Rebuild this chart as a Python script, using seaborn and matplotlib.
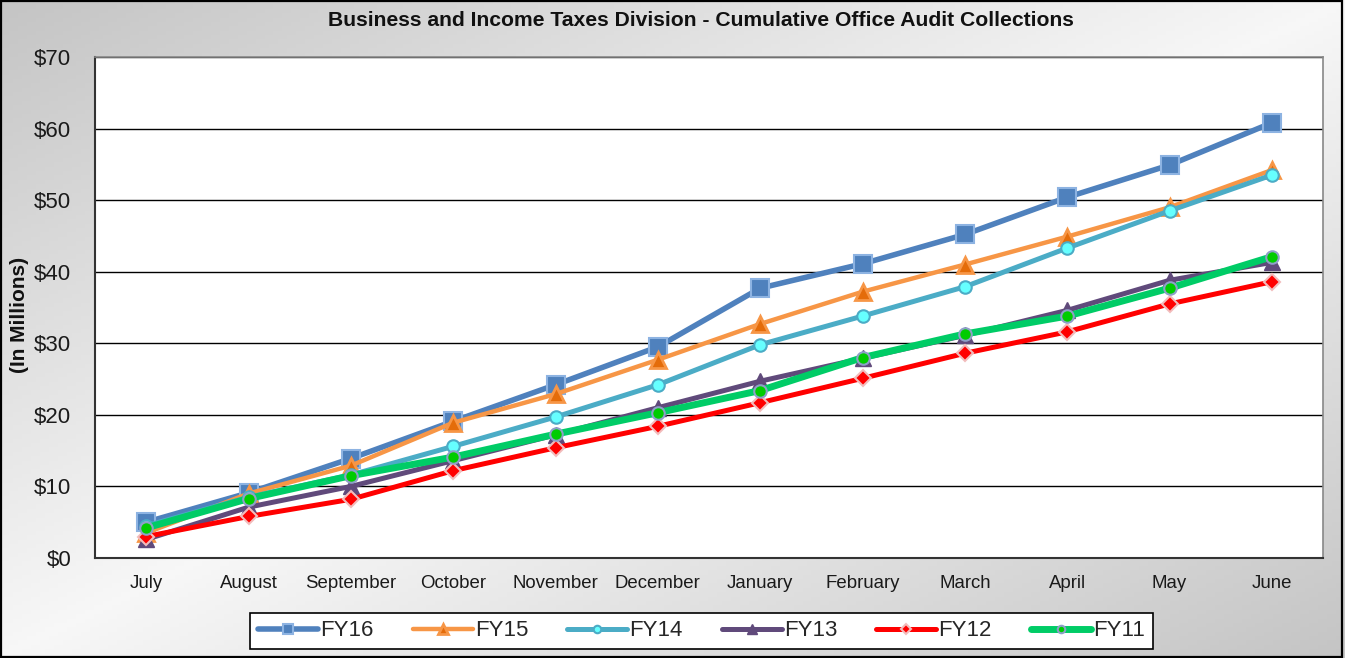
import numpy as np
import pandas as pd
import matplotlib
matplotlib.use("Agg")
import matplotlib.pyplot as plt
import seaborn as sns
from matplotlib.patches import Rectangle
from matplotlib.ticker import FixedLocator, FuncFormatter

months = ["July", "August", "September", "October", "November", "December",
          "January", "February", "March", "April", "May", "June"]

fy16 = [5.0, 9.1, 13.9, 19.1, 24.2, 29.5, 37.7, 41.1, 45.2, 50.4, 54.9, 60.8]
fy15 = [3.5, 9.0, 12.9, 18.9, 22.9, 27.7, 32.7, 37.2, 41.0, 44.9, 49.0, 54.2]
fy14 = [4.5, 8.5, 11.6, 15.6, 19.7, 24.2, 29.8, 33.8, 37.9, 43.3, 48.5, 53.5]
fy13 = [2.6, 7.1, 10.0, 13.6, 17.2, 21.0, 24.7, 27.9, 31.1, 34.6, 38.8, 41.3]
fy12 = [3.0, 5.8, 8.2, 12.2, 15.4, 18.4, 21.7, 25.1, 28.6, 31.6, 35.5, 38.6]
fy11 = [4.2, 8.3, 11.5, 14.1, 17.3, 20.3, 23.4, 28.0, 31.3, 33.8, 37.7, 42.1]

series_names = ["FY16", "FY15", "FY14", "FY13", "FY12", "FY11"]
series_vals = [fy16, fy15, fy14, fy13, fy12, fy11]

styles = {
    "FY16": dict(color="#4f81bd", marker="s", ms=13, mfc="#4f81bd", mec="#8db3e2", lw=4.0, mew=1.5),
    "FY15": dict(color="#f79646", marker="^", ms=12, mfc="#e46c0a", mec="#f79646", lw=3.2, mew=2.0),
    "FY14": dict(color="#4bacc6", marker="o", ms=9, mfc="#66ffff", mec="#4bacc6", lw=3.6, mew=1.5),
    "FY13": dict(color="#604a7b", marker="^", ms=12, mfc="#604a7b", mec="#604a7b", lw=3.6, mew=1.0),
    "FY12": dict(color="#ff0000", marker="D", ms=8.5, mfc="#ff0000", mec="#f2bcbc", lw=3.6, mew=1.5),
    "FY11": dict(color="#00cc66", marker="o", ms=9, mfc="#00cc00", mec="#8ea0c8", lw=5.0, mew=1.5),
}

rows = []
for name, vals in zip(series_names, series_vals):
    for i, v in enumerate(vals):
        rows.append({"series": name, "pos": i, "month": months[i], "value": v})
df = pd.DataFrame(rows)

sns.set_theme(style="white")
plt.rcParams["font.family"] = ["Liberation Sans", "DejaVu Sans"]

W, H = 1345, 658
fig = plt.figure(figsize=(W / 100, H / 100), dpi=100)

# gradient background
bg = fig.add_axes([0, 0, 1, 1], zorder=-10)
xx, yy = np.meshgrid(np.linspace(0, 1, 300), np.linspace(0, 1, 150))
d = xx + yy
g = 0.77 + 0.20 * (1 - np.abs(d - 1))
bg.imshow(np.dstack([g, g, g]), extent=[0, 1, 0, 1], aspect="auto", origin="upper")
bg.set_xlim(0, 1)
bg.set_ylim(0, 1)
bg.axis("off")

ax = fig.add_axes([95 / W, 1 - 558 / H, (1323 - 95) / W, (558 - 57) / H])
ax.set_facecolor("white")

for name in series_names:
    st = styles[name]
    sub = df[df["series"] == name]
    sns.lineplot(data=sub, x="pos", y="value", ax=ax, color=st["color"], lw=st["lw"],
                 marker=st["marker"], markersize=st["ms"], markerfacecolor=st["mfc"],
                 markeredgecolor=st["mec"], markeredgewidth=st["mew"], label=name,
                 solid_capstyle="round", solid_joinstyle="round")

ax.set_xlim(-0.5, 11.5)
ax.set_ylim(0, 70)
ax.yaxis.set_major_locator(FixedLocator(np.arange(0, 71, 10)))
ax.yaxis.set_major_formatter(FuncFormatter(lambda v, p: f"${int(v)}"))
ax.xaxis.set_major_locator(FixedLocator(np.arange(12)))
ax.set_xticklabels(months)
ax.xaxis.set_minor_locator(FixedLocator(np.arange(-0.5, 12, 1)))
ax.tick_params(axis="x", which="major", length=0, pad=12, labelsize=13.4, colors="#1a1a1a")
ax.tick_params(axis="x", which="minor", length=6, width=1.2, color="#333333", direction="out")
ax.tick_params(axis="y", which="major", length=6, width=1.2, color="#333333", direction="out",
               pad=11, labelsize=16, labelcolor="#1a1a1a")
ax.grid(axis="y", color="#000000", lw=1.0)
ax.set_axisbelow(True)
for s in ["left", "bottom"]:
    ax.spines[s].set_color("#333333")
    ax.spines[s].set_linewidth(1.5)
for s in ["top", "right"]:
    ax.spines[s].set_color("#888888")
    ax.spines[s].set_linewidth(1.2)
ax.set_xlabel("")
ax.set_ylabel("")

fig.text(20 / W, 1 - 315 / H, "(In Millions)", rotation=90, ha="center", va="center",
         fontsize=15, fontweight="bold", color="#111111")

leg = ax.legend(loc="center", bbox_to_anchor=((701.5 - 95) / (1323 - 95), (558 - 631) / (558 - 57)),
                ncol=6, frameon=True, fancybox=False, fontsize=16, handlelength=2.7,
                columnspacing=1.75, handletextpad=0.1, borderpad=0.35, markerscale=0.6)
leg.get_frame().set_edgecolor("#000000")
leg.get_frame().set_linewidth(1.2)
leg.get_frame().set_facecolor("white")
leg.get_frame().set_alpha(1)

fig.text(701 / W, 1 - 20 / H, "Business and Income Taxes Division - Cumulative Office Audit Collections",
         ha="center", va="center", fontsize=15.2, fontweight="bold", color="#111111")

fig.patches.append(Rectangle((0.001, 0.002), 0.997, 0.996, transform=fig.transFigure,
                             fill=False, edgecolor="black", lw=1.6, zorder=100))

fig.savefig("out.png", dpi=100)
